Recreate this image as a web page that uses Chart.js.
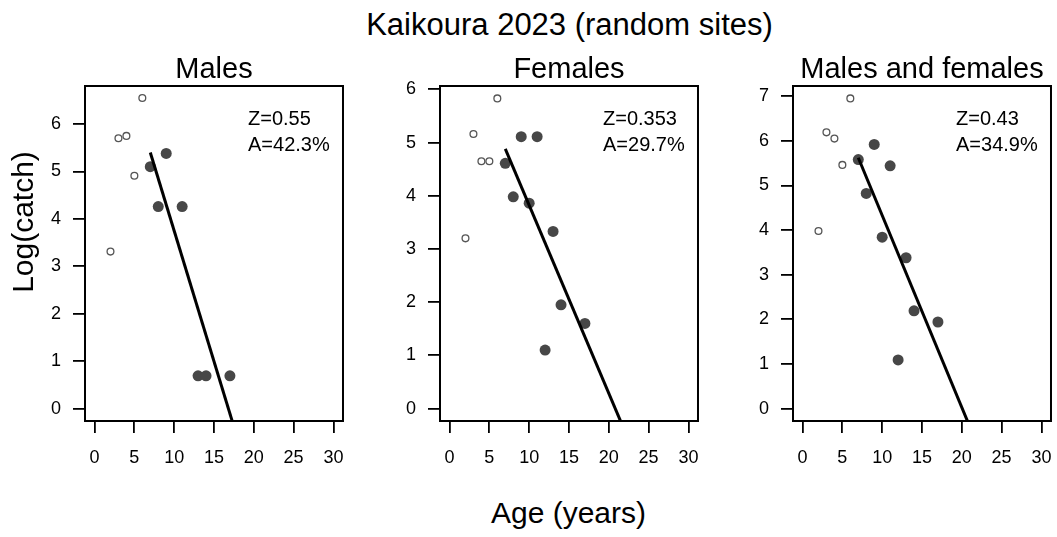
<!DOCTYPE html>
<html>
<head>
<meta charset="utf-8">
<title>Kaikoura 2023 (random sites)</title>
<script src="https://cdn.jsdelivr.net/npm/chart.js@4.4.1/dist/chart.umd.min.js"></script>
<style>
  html, body { margin: 0; padding: 0; background: #fff; overflow: hidden; }
  #fig { position: relative; width: 1057px; height: 537px; overflow: hidden;
         font-family: "Liberation Sans", Arial, sans-serif; color: #000; }
  canvas.panel { position: absolute; top: 40px; }
  .lbl { position: absolute; white-space: nowrap; text-align: center; }
  #mainTitle { left: 80px; width: 979px; top: 9px; font-size: 31px; line-height: 31px; }
  #xLabel { left: 80px; width: 977px; top: 498px; font-size: 30px; line-height: 30px; }
  #yLabel { left: -127px; width: 300px; top: 207px; font-size: 30px; line-height: 30px;
            transform: rotate(-90deg); }
</style>
</head>
<body>
<div id="fig">
  <div id="mainTitle" class="lbl">Kaikoura 2023 (random sites)</div>
  <canvas id="c1" class="panel" width="353" height="440" style="left:5px"></canvas>
  <canvas id="c2" class="panel" width="353" height="440" style="left:360px"></canvas>
  <canvas id="c3" class="panel" width="353" height="440" style="left:713px"></canvas>
  <div id="xLabel" class="lbl">Age (years)</div>
  <div id="yLabel" class="lbl">Log(catch)</div>
</div>
<script>
// Shared age axis ticks
const xTicks = [0, 5, 10, 15, 20, 25, 30];

// Males: ages before full recruitment (open) and ages used in the fit (filled)
const maleAgeOpen = [2, 3, 4, 5, 6];
const maleLogOpen = [3.31, 5.70, 5.75, 4.91, 6.55];
const maleAgeFit  = [7, 8, 9, 11, 13, 14, 17];
const maleLogFit  = [5.10, 4.26, 5.38, 4.26, 0.69, 0.69, 0.69];
const maleLineAge = [7, 17.5];
const maleLineLog = [5.40, -0.38];
const maleYTicks  = [0, 1, 2, 3, 4, 5, 6];
const maleNotes   = ["Z=0.55", "A=42.3%"];

// Females
const femaleAgeOpen = [2, 3, 4, 5, 6];
const femaleLogOpen = [3.20, 5.16, 4.65, 4.65, 5.83];
const femaleAgeFit  = [7, 8, 9, 10, 11, 12, 13, 14, 17];
const femaleLogFit  = [4.61, 3.98, 5.11, 3.86, 5.11, 1.10, 3.33, 1.95, 1.60];
const femaleLineAge = [7, 22];
const femaleLineLog = [4.88, -0.42];
const femaleYTicks  = [0, 1, 2, 3, 4, 5, 6];
const femaleNotes   = ["Z=0.353", "A=29.7%"];

// Males and females combined
const bothAgeOpen = [2, 3, 4, 5, 6];
const bothLogOpen = [3.98, 6.19, 6.05, 5.46, 6.95];
const bothAgeFit  = [7, 8, 9, 10, 11, 12, 13, 14, 17];
const bothLogFit  = [5.58, 4.82, 5.92, 3.84, 5.44, 1.09, 3.38, 2.19, 1.94];
const bothLineAge = [7, 21.2];
const bothLineLog = [5.62, -0.49];
const bothYTicks  = [0, 1, 2, 3, 4, 5, 6, 7];
const bothNotes   = ["Z=0.43", "A=34.9%"];

const FONT = '"Liberation Sans", Arial, sans-serif';
const pts = (xs, ys) => xs.map((x, i) => ({ x: x, y: ys[i] }));

// Frame around the plotting region, panel heading and Z/A annotation
const panelDecor = {
  id: 'panelDecor',
  afterDatasetsDraw(chart, args, opts) {
    const ctx = chart.ctx, a = chart.chartArea;
    ctx.save();
    ctx.strokeStyle = '#000';
    ctx.lineWidth = 2;
    ctx.strokeRect(a.left, a.top, a.right - a.left, a.bottom - a.top);
    ctx.fillStyle = '#000';
    ctx.textBaseline = 'alphabetic';
    ctx.font = '29px ' + FONT;
    ctx.textAlign = 'center';
    ctx.fillText(opts.title, (a.left + a.right) / 2, a.top - 8);
    ctx.font = '20px ' + FONT;
    ctx.textAlign = 'left';
    opts.notes.forEach((t, i) => ctx.fillText(t, a.right - 95, a.top + 39 + i * 26));
    ctx.restore();
  }
};

function makePanel(id, title, ageOpen, logOpen, ageFit, logFit, lineAge, lineLog, yTicks, yMax, notes) {
  const tickGrid = {
    display: true, drawOnChartArea: false, drawTicks: true,
    tickLength: 12, color: '#000', lineWidth: 1.8
  };
  return new Chart(document.getElementById(id), {
    type: 'scatter',
    data: {
      datasets: [
        {
          type: 'line', data: pts(lineAge, lineLog), showLine: true,
          borderColor: '#000', borderWidth: 3, pointRadius: 0, fill: false
        },
        {
          data: pts(ageFit, logFit), pointStyle: 'circle', pointRadius: 5.5,
          backgroundColor: '#474747', borderColor: '#474747', borderWidth: 0
        },
        {
          data: pts(ageOpen, logOpen), pointStyle: 'circle', pointRadius: 3.4,
          backgroundColor: 'rgba(255,255,255,0)', borderColor: '#555', borderWidth: 1.3
        }
      ]
    },
    options: {
      responsive: false, animation: false, devicePixelRatio: 1,
      layout: { padding: { top: 46, right: 15, left: 0, bottom: 0 } },
      plugins: {
        legend: { display: false }, tooltip: { enabled: false },
        panelDecor: { title: title, notes: notes }
      },
      scales: {
        x: {
          type: 'linear', min: -1.2, max: 31.2,
          afterBuildTicks: s => { s.ticks = xTicks.map(v => ({ value: v })); },
          afterFit: s => { s.height = 59; },
          grid: tickGrid, border: { display: false },
          ticks: { color: '#000', font: { family: FONT, size: 18 }, padding: 14,
                   maxRotation: 0, autoSkip: false }
        },
        y: {
          type: 'linear', min: -0.04 * yMax, max: 1.04 * yMax,
          afterBuildTicks: s => { s.ticks = yTicks.map(v => ({ value: v })); },
          afterFit: s => { s.width = 80; },
          grid: tickGrid, border: { display: false },
          ticks: { color: '#000', font: { family: FONT, size: 18 }, padding: 12, autoSkip: false }
        }
      }
    },
    plugins: [panelDecor]
  });
}

makePanel('c1', 'Males', maleAgeOpen, maleLogOpen, maleAgeFit, maleLogFit,
          maleLineAge, maleLineLog, maleYTicks, 6.54, maleNotes);
makePanel('c2', 'Females', femaleAgeOpen, femaleLogOpen, femaleAgeFit, femaleLogFit,
          femaleLineAge, femaleLineLog, femaleYTicks, 5.83, femaleNotes);
makePanel('c3', 'Males and females', bothAgeOpen, bothLogOpen, bothAgeFit, bothLogFit,
          bothLineAge, bothLineLog, bothYTicks, 6.95, bothNotes);
</script>
</body>
</html>
